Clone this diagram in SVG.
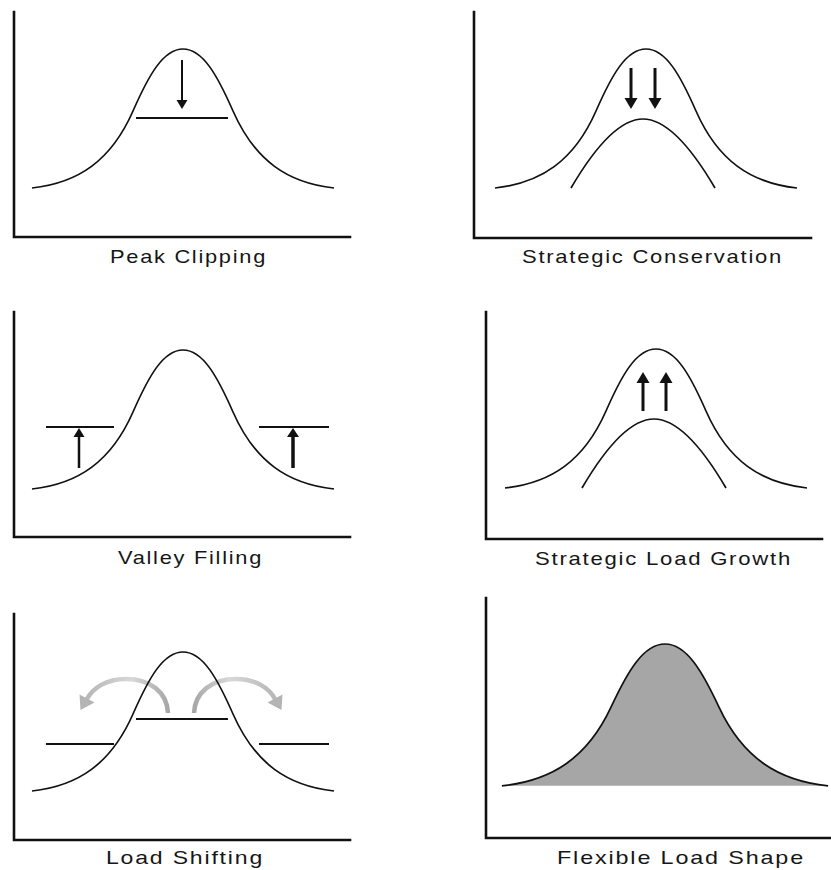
<svg xmlns="http://www.w3.org/2000/svg" xmlns:xlink="http://www.w3.org/1999/xlink" width="831" height="870" viewBox="0 0 831 870">
  <style>
    .axis { fill: none; stroke: #111; stroke-width: 2.6; stroke-linecap: square; }
    .curve { fill: none; stroke: #111; stroke-width: 1.7; }
    .lvl { fill: none; stroke: #111; stroke-width: 1.8; }
    .shaft { stroke: #111; fill: none; }
    .head { fill: #111; stroke: none; }
    .label { font-family: "Liberation Sans", Arial, Helvetica, sans-serif; font-size: 19px; fill: #161616; letter-spacing: 1.5px; }
    .shift { fill: none; stroke: url(#fade); stroke-width: 4.5; }
    .shifthead { fill: #b4b4b4; }
  </style>
  <defs>
    <path id="bell" d="M-151,139 C-105,134 -72,112 -50,62 C-34.6,27 -20,0 0,0 C20,0 34.6,27 50,62 C72,112 105,134 151,139"/>
    <path id="inner" d="M-72,69 C-55,40 -28,0 0,0 C28,0 55,40 72,69"/>
    <linearGradient id="fade" gradientUnits="userSpaceOnUse" x1="168" y1="712" x2="82" y2="705">
      <stop offset="0" stop-color="#a6a6a6"/>
      <stop offset="0.45" stop-color="#d8d8d8"/>
      <stop offset="1" stop-color="#b4b4b4"/>
    </linearGradient>
  </defs>
  <rect x="0" y="0" width="831" height="870" fill="#ffffff"/>

  <g id="peak-clipping">
    <path class="axis" d="M14,12 V237 H350"/>
    <use xlink:href="#bell" href="#bell" class="curve" transform="translate(183,49)"/>
    <line class="lvl" x1="136" y1="118" x2="228" y2="118"/>
    <line class="shaft" x1="182" y1="60" x2="182" y2="101" stroke-width="2"/>
    <polygon class="head" points="176.5,100 187.5,100 182,109"/>
    <text class="label" x="110" y="263" textLength="157" lengthAdjust="spacingAndGlyphs">Peak Clipping</text>
  </g>

  <g id="strategic-conservation">
    <path class="axis" d="M474,12 V238 H811"/>
    <use xlink:href="#bell" href="#bell" class="curve" transform="translate(646,49)"/>
    <use xlink:href="#inner" href="#inner" class="curve" transform="translate(643,119)"/>
    <line class="shaft" x1="631" y1="68" x2="631" y2="99" stroke-width="3"/>
    <polygon class="head" points="624.5,98 637.5,98 631,109"/>
    <line class="shaft" x1="655" y1="68" x2="655" y2="99" stroke-width="3"/>
    <polygon class="head" points="648.5,98 661.5,98 655,109"/>
    <text class="label" x="522" y="263" textLength="261" lengthAdjust="spacingAndGlyphs">Strategic Conservation</text>
  </g>

  <g id="valley-filling">
    <path class="axis" d="M14,312 V537 H350"/>
    <use xlink:href="#bell" href="#bell" class="curve" transform="translate(183,350)"/>
    <line class="lvl" x1="46" y1="427" x2="114" y2="427"/>
    <line class="lvl" x1="259" y1="427" x2="329" y2="427"/>
    <line class="shaft" x1="79" y1="468" x2="79" y2="436" stroke-width="2.5"/>
    <polygon class="head" points="73.5,437 84.5,437 79,428"/>
    <line class="shaft" x1="293" y1="468" x2="293" y2="436" stroke-width="3.5"/>
    <polygon class="head" points="287,437 299,437 293,428"/>
    <text class="label" x="118" y="564" textLength="145" lengthAdjust="spacingAndGlyphs">Valley Filling</text>
  </g>

  <g id="strategic-load-growth">
    <path class="axis" d="M486,312 V539 H822"/>
    <use xlink:href="#bell" href="#bell" class="curve" transform="translate(656,349)"/>
    <use xlink:href="#inner" href="#inner" class="curve" transform="translate(654,419)"/>
    <line class="shaft" x1="643" y1="411" x2="643" y2="382" stroke-width="3"/>
    <polygon class="head" points="636.5,383 649.5,383 643,372"/>
    <line class="shaft" x1="666" y1="411" x2="666" y2="382" stroke-width="3"/>
    <polygon class="head" points="659.5,383 672.5,383 666,372"/>
    <text class="label" x="535" y="565" textLength="257" lengthAdjust="spacingAndGlyphs">Strategic Load Growth</text>
  </g>

  <g id="load-shifting">
    <path class="axis" d="M14,614 V840 H350"/>
    <g id="shift-left">
      <path class="shift" d="M168,713 C167,692 150,679 126,679 C106,679 93,688 87,699"/>
      <polygon class="shifthead" points="79.5,694.5 94.5,702.5 80.5,710"/>
    </g>
    <g id="shift-right" transform="translate(362,0) scale(-1,1)">
      <path class="shift" d="M168,713 C167,692 150,679 126,679 C106,679 93,688 87,699"/>
      <polygon class="shifthead" points="79.5,694.5 94.5,702.5 80.5,710"/>
    </g>
    <use xlink:href="#bell" href="#bell" class="curve" transform="translate(183,652)"/>
    <line class="lvl" x1="136" y1="719" x2="228" y2="719"/>
    <line class="lvl" x1="46" y1="744" x2="114" y2="744"/>
    <line class="lvl" x1="259" y1="744" x2="329" y2="744"/>
    <text class="label" x="106" y="864" textLength="158" lengthAdjust="spacingAndGlyphs">Load Shifting</text>
  </g>

  <g id="flexible-load-shape">
    <path class="axis" d="M486,598 V838 H833"/>
    <path d="M501.9,785.8 C551.6,780.7 587.2,758.2 611,707.2 C627.6,671.5 643.4,644 665,644 C686.6,644 702.4,671.5 719,707.2 C742.8,758.2 778.4,780.7 828.1,785.8 Z" fill="#a6a6a6" stroke="none"/>
    <path class="curve" d="M501.9,785.8 C551.6,780.7 587.2,758.2 611,707.2 C627.6,671.5 643.4,644 665,644 C686.6,644 702.4,671.5 719,707.2 C742.8,758.2 778.4,780.7 828.1,785.8"/>
    <text class="label" x="557" y="864" textLength="248" lengthAdjust="spacingAndGlyphs">Flexible Load Shape</text>
  </g>
</svg>
